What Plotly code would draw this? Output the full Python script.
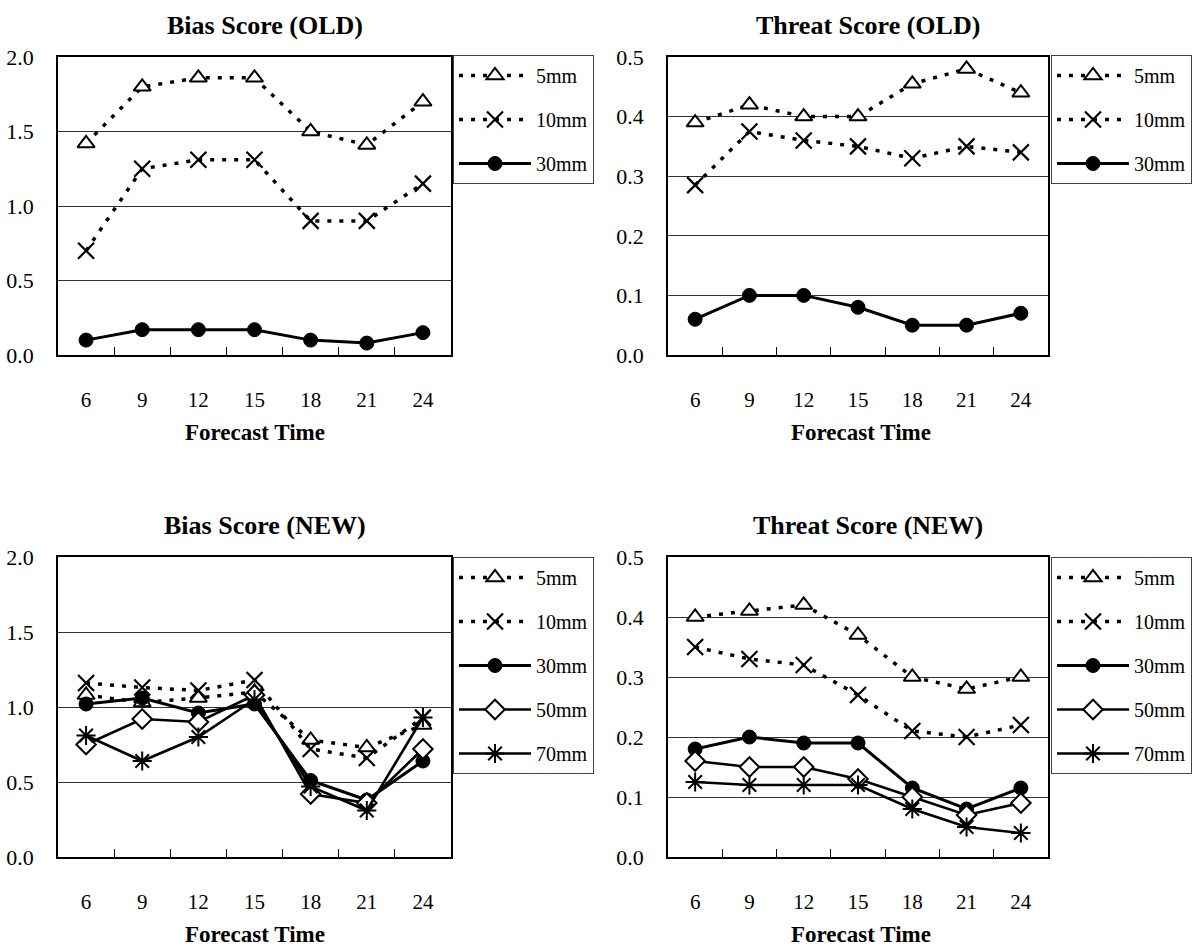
import plotly.graph_objects as go

# ---------------- data ----------------
forecast_time = ["6", "9", "12", "15", "18", "21", "24"]

bias_old_5mm = [1.42, 1.80, 1.86, 1.86, 1.50, 1.41, 1.70]
bias_old_10mm = [0.70, 1.25, 1.31, 1.31, 0.90, 0.90, 1.15]
bias_old_30mm = [0.10, 0.17, 0.17, 0.17, 0.10, 0.08, 0.15]

threat_old_5mm = [0.39, 0.42, 0.40, 0.40, 0.455, 0.48, 0.44]
threat_old_10mm = [0.285, 0.375, 0.36, 0.35, 0.33, 0.35, 0.34]
threat_old_30mm = [0.06, 0.10, 0.10, 0.08, 0.05, 0.05, 0.07]

bias_new_5mm = [1.08, 1.03, 1.06, 1.10, 0.78, 0.73, 0.88]
bias_new_10mm = [1.16, 1.13, 1.11, 1.18, 0.72, 0.66, 0.93]
bias_new_30mm = [1.02, 1.06, 0.96, 1.02, 0.51, 0.38, 0.64]
bias_new_50mm = [0.75, 0.92, 0.90, 1.08, 0.42, 0.36, 0.72]
bias_new_70mm = [0.81, 0.64, 0.80, 1.05, 0.47, 0.31, 0.93]

threat_new_5mm = [0.40, 0.41, 0.42, 0.37, 0.30, 0.28, 0.30]
threat_new_10mm = [0.35, 0.33, 0.32, 0.27, 0.21, 0.20, 0.22]
threat_new_30mm = [0.18, 0.20, 0.19, 0.19, 0.115, 0.08, 0.115]
threat_new_50mm = [0.16, 0.15, 0.15, 0.13, 0.10, 0.07, 0.09]
threat_new_70mm = [0.125, 0.12, 0.12, 0.12, 0.08, 0.05, 0.04]

series_names = ["5mm", "10mm", "30mm", "50mm", "70mm"]
panel_titles = ["Bias Score (OLD)", "Threat Score (OLD)", "Bias Score (NEW)", "Threat Score (NEW)"]
x_title = "Forecast Time"

# ---------------- styles ----------------
FONT = "Liberation Serif, Times New Roman, serif"
W, H = 1195, 949

styles = {
    "5mm": dict(line=dict(color="black", width=3.5, dash="4px,8px"),
                marker=dict(symbol="triangle-up", size=15, color="white",
                            line=dict(color="black", width=2))),
    "10mm": dict(line=dict(color="black", width=3.5, dash="4px,8px"),
                 marker=dict(symbol="x-thin-open", size=16, color="black",
                             line=dict(color="black", width=2.2))),
    "30mm": dict(line=dict(color="black", width=3),
                 marker=dict(symbol="circle", size=14, color="black",
                             line=dict(color="black", width=1))),
    "50mm": dict(line=dict(color="black", width=2.6),
                 marker=dict(symbol="diamond", size=15, color="white",
                             line=dict(color="black", width=2))),
    "70mm": dict(line=dict(color="black", width=2.6),
                 marker=dict(symbol="asterisk-open", size=16, color="black",
                             line=dict(color="black", width=2))),
}

panels = [
    dict(data=[bias_old_5mm, bias_old_10mm, bias_old_30mm], ymax=2.0, dtick=0.5,
         px=(58, 451), py=(57, 355), legend=dict(x=453, y=55)),
    dict(data=[threat_old_5mm, threat_old_10mm, threat_old_30mm], ymax=0.5, dtick=0.1,
         px=(668, 1048), py=(57, 355), legend=dict(x=1051, y=55)),
    dict(data=[bias_new_5mm, bias_new_10mm, bias_new_30mm, bias_new_50mm, bias_new_70mm],
         ymax=2.0, dtick=0.5, px=(58, 451), py=(557, 857), legend=dict(x=453, y=557)),
    dict(data=[threat_new_5mm, threat_new_10mm, threat_new_30mm, threat_new_50mm, threat_new_70mm],
         ymax=0.5, dtick=0.1, px=(668, 1048), py=(557, 857), legend=dict(x=1051, y=557)),
]
title_pos = [(265, 25), (868, 25), (265, 525), (868, 525)]
xtitle_pos = [(255, 432), (861, 432), (255, 934), (861, 934)]

fig = go.Figure()
layout = dict(
    width=W, height=H,
    margin=dict(l=0, r=0, t=0, b=0, autoexpand=False),
    paper_bgcolor="white", plot_bgcolor="white",
    showlegend=True,
    font=dict(family=FONT, color="black", size=20),
    annotations=[],
)

for i, p in enumerate(panels):
    k = i + 1
    sfx = "" if k == 1 else str(k)
    leg = "legend" if k == 1 else f"legend{k}"
    for name, vals in zip(series_names, p["data"]):
        st = styles[name]
        fig.add_trace(go.Scatter(
            x=forecast_time, y=vals, name=name, mode="lines+markers",
            line=st["line"], marker=st["marker"],
            xaxis=f"x{sfx}", yaxis=f"y{sfx}", legend=leg,
            legendgroup=f"g{k}_{name}", cliponaxis=False,
        ))
    x0, x1 = p["px"]
    y0, y1 = p["py"]
    layout[f"xaxis{sfx}"] = dict(
        domain=[x0 / W, x1 / W], anchor=f"y{sfx}", type="category",
        range=[-0.5, 6.5], showline=True, mirror=True, linecolor="black", linewidth=1.5,
        ticks="inside", tickson="boundaries", ticklen=8, tickwidth=1.2, tickcolor="black",
        showgrid=False, zeroline=False, ticklabelstandoff=25, automargin=False,
        tickfont=dict(family=FONT, size=21, color="black"),
    )
    layout[f"yaxis{sfx}"] = dict(
        domain=[1 - y1 / H, 1 - y0 / H], anchor=f"x{sfx}",
        range=[0, p["ymax"]], dtick=p["dtick"], tick0=0, tickformat=".1f",
        showline=True, mirror=True, linecolor="black", linewidth=1.5,
        ticks="", showgrid=True, gridcolor="#333333", gridwidth=1, zeroline=False,
        ticklabelstandoff=18, automargin=False,
        tickfont=dict(family=FONT, size=22, color="black"),
    )
    lg = p["legend"]
    layout[leg] = dict(
        x=lg["x"] / W, y=1 - lg["y"] / H, xanchor="left", yanchor="top",
        bordercolor="#444444", borderwidth=1, bgcolor="white",
        font=dict(family=FONT, size=20, color="black"),
        itemwidth=72, tracegroupgap=15, traceorder="grouped",
    )
    tx, ty = title_pos[i]
    layout["annotations"].append(dict(
        text=f"<b>{panel_titles[i]}</b>", x=tx / W, y=1 - ty / H, xref="paper", yref="paper",
        xanchor="center", yanchor="middle", showarrow=False,
        font=dict(family=FONT, size=26, color="black"),
    ))
    ax, ay = xtitle_pos[i]
    layout["annotations"].append(dict(
        text=f"<b>{x_title}</b>", x=ax / W, y=1 - ay / H, xref="paper", yref="paper",
        xanchor="center", yanchor="middle", showarrow=False,
        font=dict(family=FONT, size=23, color="black"),
    ))

fig.update_layout(**layout)
fig.write_html(
    "out.html",
    config={"displayModeBar": False},
    post_script="document.body.style.margin='0';document.body.style.padding='0';",
)
